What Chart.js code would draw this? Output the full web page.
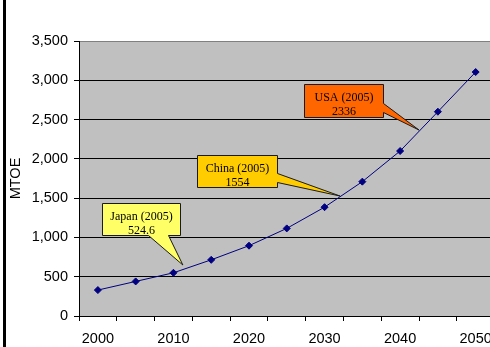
<!DOCTYPE html>
<html>
<head>
<meta charset="utf-8">
<script src="https://cdn.jsdelivr.net/npm/chart.js@4"></script>
<style>
  html, body { margin: 0; padding: 0; overflow: hidden; background: #fff; }
  canvas { display: block; }
</style>
</head>
<body>
<canvas id="energyChart" width="501" height="347"></canvas>
<script>
// Dados do gráfico
const years = ['2000', '2005', '2010', '2015', '2020', '2025', '2030', '2035', '2040', '2045', '2050'];
const mtoeValues = [330, 440, 550, 715, 895, 1115, 1385, 1710, 2100, 2600, 3105];
const yearTickLabels = ['2000', '2010', '2020', '2030', '2040', '2050'];
const yTickValues = [0, 500, 1000, 1500, 2000, 2500, 3000, 3500];

// Balões: texto e ponto para onde apontam (índice da categoria, valor)
const calloutNames = ['Japan (2005)', 'China (2005)', 'USA (2005)'];
const calloutValues = ['524.6', '1554', '2336'];
const calloutTipIndex = [2.25, 6.41, 8.5];
const calloutTipValue = [649, 1527, 2367];

// Estilo dos balões (em pixels, relativo à ponta)
const calloutStyle = [
    { fill: '#FFFF66', dx: -81, dy: -62, w: 78, h: 32, side: 'bottom', b1: 46, b2: 66 },
    { fill: '#FFCC00', dx: -143, dy: -41, w: 80, h: 32, side: 'right', b1: 18, b2: 27 },
    { fill: '#FF6600', dx: -115, dy: -46, w: 79, h: 33, side: 'right', b1: 19, b2: 28 }
];

const frameAndBackground = {
    id: 'frameAndBackground',
    beforeDraw(chart) {
        const { ctx, chartArea } = chart;
        ctx.save();
        ctx.fillStyle = '#C0C0C0';
        ctx.fillRect(chartArea.left, chartArea.top, chartArea.right - chartArea.left, chartArea.bottom - chartArea.top);
        // borda preta à esquerda
        ctx.fillStyle = '#000';
        ctx.fillRect(3, 0, 3, chart.height);
        ctx.restore();
    }
};

const callouts = {
    id: 'callouts',
    afterDatasetsDraw(chart) {
        const { ctx, scales } = chart;
        ctx.save();
        calloutNames.forEach(function (name, i) {
            const s = calloutStyle[i];
            const tx = scales.x.getPixelForDecimal((calloutTipIndex[i] + 0.5) / years.length);
            const ty = scales.y.getPixelForValue(calloutTipValue[i]);
            const l = Math.round(tx + s.dx) + 0.5;
            const t = Math.round(ty + s.dy) + 0.5;
            const r = l + s.w;
            const b = t + s.h;
            ctx.beginPath();
            ctx.moveTo(l, t);
            ctx.lineTo(r, t);
            if (s.side === 'right') {
                ctx.lineTo(r, t + s.b1);
                ctx.lineTo(tx, ty);
                ctx.lineTo(r, t + s.b2);
                ctx.lineTo(r, b);
                ctx.lineTo(l, b);
            } else {
                ctx.lineTo(r, b);
                ctx.lineTo(l + s.b2, b);
                ctx.lineTo(tx, ty);
                ctx.lineTo(l + s.b1, b);
                ctx.lineTo(l, b);
            }
            ctx.closePath();
            ctx.fillStyle = s.fill;
            ctx.fill();
            ctx.strokeStyle = '#1a1a1a';
            ctx.lineWidth = 1;
            ctx.stroke();

            ctx.fillStyle = '#000';
            ctx.font = '12px "Liberation Serif", "Times New Roman", serif';
            ctx.textAlign = 'center';
            ctx.textBaseline = 'middle';
            ctx.fillText(name, l + s.w / 2, t + 13.5);
            ctx.fillText(calloutValues[i], l + s.w / 2, t + 27.5);
        });
        ctx.restore();
    }
};

const axisFont = { family: '"Liberation Sans", Arial, sans-serif', size: 14.5 };

const ctx = document.getElementById('energyChart').getContext('2d');
new Chart(ctx, {
    type: 'line',
    data: {
        labels: years,
        datasets: [{
            label: 'MTOE',
            data: mtoeValues,
            borderColor: '#000080',
            backgroundColor: '#000080',
            borderWidth: 1,
            pointStyle: 'rectRot',
            pointRadius: 3.5,
            pointHoverRadius: 3.5,
            tension: 0
        }]
    },
    options: {
        responsive: false,
        animation: false,
        layout: { padding: { top: 41, right: 0, left: 0, bottom: 0 } },
        plugins: {
            legend: { display: false },
            tooltip: { enabled: false }
        },
        scales: {
            x: {
                type: 'category',
                offset: true,
                afterFit: function (scale) { scale.height = 31; },
                grid: {
                    offset: true,
                    drawOnChartArea: false,
                    drawTicks: true,
                    tickLength: 5,
                    tickColor: '#000'
                },
                border: { color: '#000', width: 1 },
                ticks: {
                    autoSkip: false,
                    maxRotation: 0,
                    padding: 9,
                    color: '#000',
                    font: axisFont,
                    callback: function (value, index) {
                        const year = years[index];
                        return yearTickLabels.includes(year) ? year : '';
                    }
                }
            },
            y: {
                min: yTickValues[0],
                max: yTickValues[yTickValues.length - 1],
                afterFit: function (scale) { scale.width = 79; },
                afterBuildTicks: function (scale) {
                    scale.ticks = yTickValues.map(function (v) { return { value: v }; });
                },
                grid: {
                    color: function (c) { return c.tick && c.tick.value === 3500 ? '#808080' : '#000'; },
                    lineWidth: 1,
                    tickLength: 5,
                    tickColor: '#000'
                },
                border: { color: '#000', width: 1 },
                title: {
                    display: true,
                    text: 'MTOE',
                    color: '#000',
                    font: axisFont,
                    padding: { top: 7, bottom: 0 }
                },
                ticks: {
                    padding: 6,
                    color: '#000',
                    font: axisFont,
                    callback: function (value) {
                        return value.toLocaleString('en-US');
                    }
                }
            }
        }
    },
    plugins: [frameAndBackground, callouts]
});
</script>
</body>
</html>
